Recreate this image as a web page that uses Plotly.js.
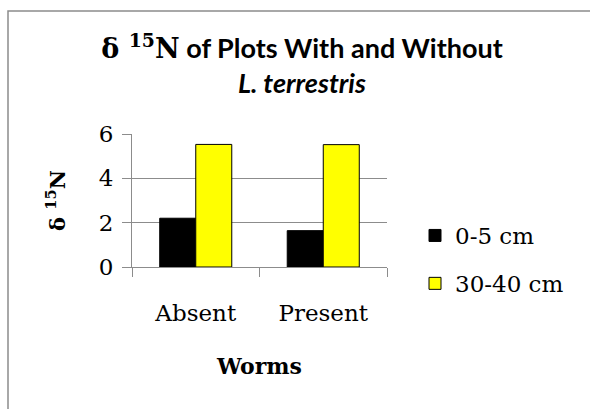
<!DOCTYPE html>
<html>
<head>
<meta charset="utf-8">
<script src="https://cdn.plot.ly/plotly-3.0.1.min.js"></script>
<style>html,body{margin:0;padding:0;background:#fff;}#chart{width:590px;height:409px;}</style>
</head>
<body>
<div id="chart"></div>
<script>
const categories = ["Absent", "Present"];
const seriesNames = ["0-5 cm", "30-40 cm"];
const shallowValues = [2.2, 1.64];
const deepValues = [5.53, 5.52];
const yTicks = [0, 2, 4, 6];

const serif = "DejaVu Serif, serif";
const sans = "Lato, Carlito, sans-serif";
const grid = "#8c8c8c";

const traces = [
  {type: "bar", name: seriesNames[0], x: categories, y: shallowValues, legendgroup: "a",
   marker: {color: "#000000", line: {color: "#000000", width: 1}}},
  {type: "bar", name: seriesNames[1], x: categories, y: deepValues, legendgroup: "b",
   marker: {color: "#ffff00", line: {color: "#000000", width: 1}}}
];

const L = 132, R = 203, T = 134, B = 142;
const pw = 590 - L - R, ph = 409 - T - B;
const px = v => (v - L) / pw;
const py = v => (409 - B - v) / ph;

const layout = {
  width: 590, height: 409,
  margin: {l: L, r: R, t: T, b: B, pad: 0},
  paper_bgcolor: "#ffffff", plot_bgcolor: "#ffffff",
  barmode: "group", bargap: 0.435, bargroupgap: 0,
  showlegend: true,
  title: {
    text: "<span style='font-family:DejaVu Serif'>δ <sup>15</sup>N</span> of Plots With and Without<br><i>L. terrestris</i>",
    font: {family: sans, size: 27, color: "#000000", weight: "bold"},
    xref: "paper", yref: "container", x: px(302), y: 1 - 58 / 409, xanchor: "center", yanchor: "middle"
  },
  xaxis: {
    type: "category", showline: true, linecolor: grid, linewidth: 1,
    ticks: "outside", ticklen: 9, tickcolor: grid, tickson: "boundaries",
    tickfont: {family: serif, size: 23, color: "#000"},
    ticklabelstandoff: 25,
    title: {text: "<b>Worms</b>", font: {family: serif, size: 22, color: "#000"}, standoff: 34},
    showgrid: false, fixedrange: true
  },
  yaxis: {
    range: [0, 6], tickvals: yTicks, showline: true, linecolor: grid, linewidth: 1,
    ticks: "outside", ticklen: 9, tickcolor: grid,
    showgrid: true, gridcolor: grid, gridwidth: 1, zeroline: false,
    tickfont: {family: serif, size: 23, color: "#000"}, ticklabelstandoff: 4,
    title: {text: "<b>δ <sup>15</sup>N</b>", font: {family: serif, size: 21, color: "#000"}, standoff: 27},
    fixedrange: true
  },
  legend: {
    x: px(415), y: py(214), xanchor: "left", yanchor: "top",
    font: {family: serif, size: 23, color: "#000"},
    bgcolor: "rgba(0,0,0,0)", itemwidth: 30, tracegroupgap: 15,
    traceorder: "grouped"
  },
  shapes: [
    {type: "rect", xref: "paper", yref: "paper", x0: px(8), x1: px(640), y0: py(11), y1: py(460),
     line: {color: "#8c8c8c", width: 1.5}, fillcolor: "rgba(0,0,0,0)", layer: "below"}
  ]
};

Plotly.newPlot("chart", traces, layout, {displayModeBar: false, staticPlot: true});
</script>
</body>
</html>
